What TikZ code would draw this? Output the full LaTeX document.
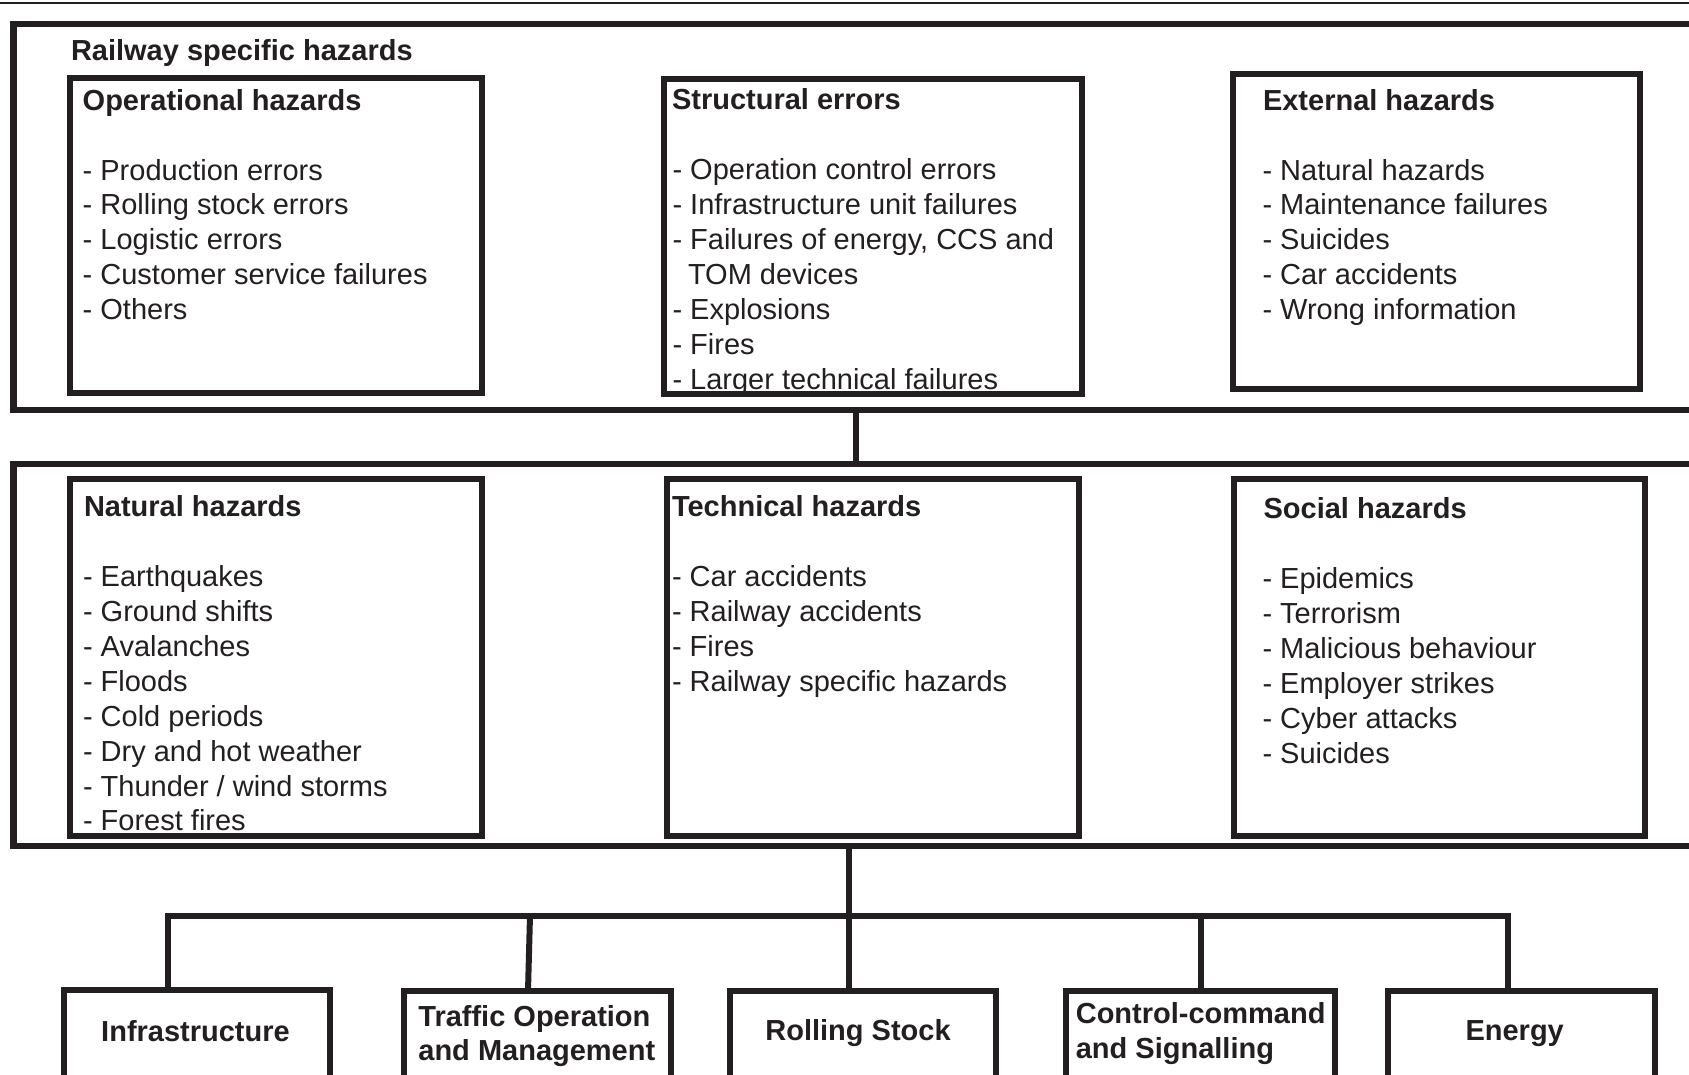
\documentclass[tikz,border=0pt]{standalone}
\usepackage{fontspec}
\setmainfont{Liberation Sans}
\definecolor{ink}{RGB}{35,31,32}
\newcommand\hzlist[4]{%
  \foreach \t [count=\i] in {#4}{%
    \node[txt] (#1\i) at (#2,{#3+34.95*(\i-1)}) {\t};}}
\begin{document}
\begin{tikzpicture}[x=1pt,y=-1pt,
  box/.style={draw=ink,line width=6pt,inner sep=0pt,outer sep=0pt,anchor=north west},
  obox/.style={box,line width=6.5pt},
  conn/.style={draw=ink,line width=6pt},
  txt/.style={inner sep=0pt,outer sep=0pt,anchor=base west,text=ink,font=\fontsize{29}{34.8}\selectfont},
  hd/.style={txt,font=\fontsize{29}{34.8}\selectfont\bfseries},
  lbl/.style={hd,anchor=base}]
\useasboundingbox (0,0) rectangle (1689,1074);
\clip (0,0) rectangle (1689,1074);
\fill[white] (0,0) rectangle (1689,1074);
\draw[ink,line width=2pt] (0,2.5) -- (1689,2.5);

% outer boxes
\node[obox,minimum width=1706.5pt,minimum height=386pt] (rsh) at (13.5,24) {};
\node[obox,minimum width=1706.5pt,minimum height=382pt] (gen) at (13.5,464) {};

% texts top row
\node[hd] (rshT) at (71,60.5) {Railway specific hazards};
\node[hd] (opT) at (82.7,110) {Operational hazards};
\hzlist{op}{82.7}{180}{{- Production errors},{- Rolling stock errors},{- Logistic errors},{- Customer service failures},{- Others}}
\node[hd] (stT) at (672,109.5) {Structural errors};
\hzlist{st}{672.5}{179.3}{{- Operation control errors},{- Infrastructure unit failures},{- Failures of energy, CCS and},{\hspace*{15.5pt}TOM devices},{- Explosions},{- Fires},{- Larger technical failures}}
\node[hd] (exT) at (1263,110) {External hazards};
\hzlist{ex}{1262.5}{180}{{- Natural hazards},{- Maintenance failures},{- Suicides},{- Car accidents},{- Wrong information}}

% texts middle row
\node[hd] (naT) at (84,516.3) {Natural hazards};
\hzlist{na}{83}{586.3}{{- Earthquakes},{- Ground shifts},{- Avalanches},{- Floods},{- Cold periods},{- Dry and hot weather},{- Thunder / wind storms},{- Forest fires}}
\node[hd] (teT) at (672,516.3) {Technical hazards};
\hzlist{te}{672}{586.3}{{- Car accidents},{- Railway accidents},{- Fires},{- Railway specific hazards}}
\node[hd] (soT) at (1263.6,518.4) {Social hazards};
\hzlist{so}{1262.5}{588.5}{{- Epidemics},{- Terrorism},{- Malicious behaviour},{- Employer strikes},{- Cyber attacks},{- Suicides}}

% inner boxes
\node[box,minimum width=411.4pt,minimum height=314.2pt] (op) at (70.3,78.3) {};
\node[box,minimum width=418pt,minimum height=314.7pt] (st) at (663.5,79) {};
\node[box,minimum width=406.9pt,minimum height=315pt] (ex) at (1233.4,74.2) {};
\node[box,minimum width=411.2pt,minimum height=357.5pt] (na) at (70.3,478.8) {};
\node[box,minimum width=412pt,minimum height=357.5pt] (te) at (666.5,478.8) {};
\node[box,minimum width=411.6pt,minimum height=357.5pt] (so) at (1233.7,478.8) {};

% bottom boxes
\node[box,minimum width=266.6pt,minimum height=110pt] (inf) at (63.7,989.7) {};
\node[box,minimum width=267.3pt,minimum height=110pt] (tom) at (403.7,991) {};
\node[box,minimum width=266.3pt,minimum height=110pt] (rs) at (729.5,991.2) {};
\node[box,minimum width=268.2pt,minimum height=110pt] (ccs) at (1066.3,990.5) {};
\node[box,minimum width=267.5pt,minimum height=110pt] (en) at (1387.8,991.2) {};

\node[lbl] (infT) at (195.5,1041) {Infrastructure};
\node[hd] (tomT1) at (418.4,1026) {Traffic Operation};
\node[hd] (tomT2) at (418.4,1060.5) {and Management};
\node[lbl] (rsT) at (858,1040) {Rolling Stock};
\node[hd] (ccsT1) at (1075.8,1023.5) {Control-command};
\node[hd] (ccsT2) at (1075.8,1058.5) {and Signalling};
\node[lbl] (enT) at (1514.7,1040) {Energy};

% connectors
\coordinate (c1) at (856,0);
\coordinate (m) at (849,0);
\coordinate (busL) at (167.5,915.5);
\coordinate (busR) at (1508,915.5);
\coordinate (t1) at (530,915.5);
\coordinate (t2) at (528,0);
\coordinate (cc) at (1201,915.5);
\draw[conn] (rsh.south -| c1) -- (gen.north -| c1);
\draw[conn] (gen.south -| m) -- (rs.north -| m);
\draw[conn] (inf.north -| busL) -- (busL) -- (busR) -- (en.north -| busR);
\draw[conn] (t1) -- (tom.north -| t2);
\draw[conn] (cc) -- (ccs.north -| cc);
\end{tikzpicture}
\end{document}
